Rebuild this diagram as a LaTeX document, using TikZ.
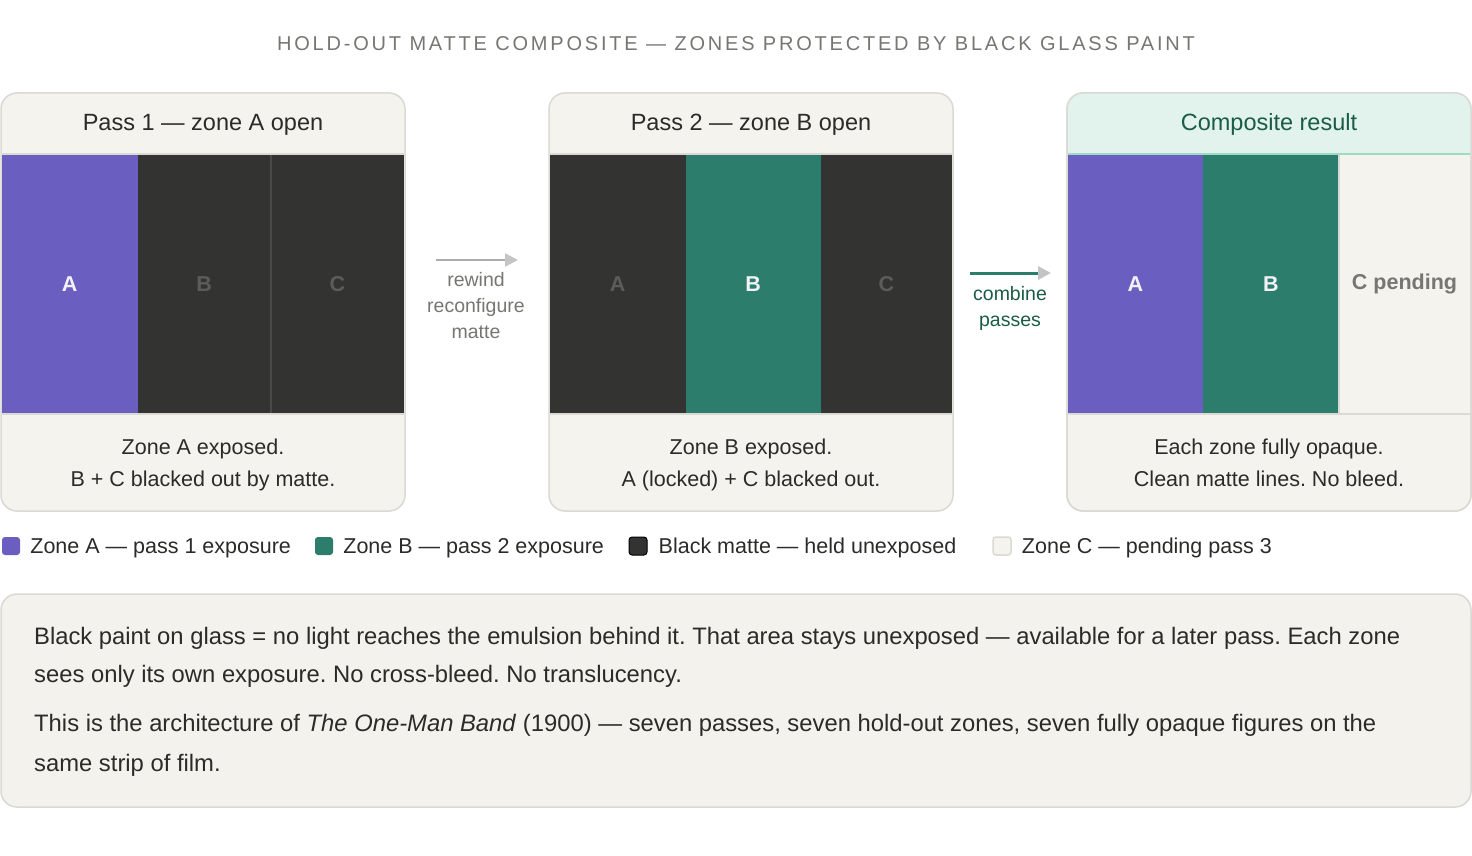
\documentclass[tikz,border=0pt]{standalone}
\usepackage{fontspec}
\setmainfont{Liberation Sans}
\usepackage{tikz}
\usetikzlibrary{arrows.meta,positioning}
\definecolor{Cream}{HTML}{F4F3EE}
\definecolor{NoteFill}{HTML}{F3F2EC}
\definecolor{PanelEdge}{HTML}{DAD9D3}
\definecolor{Violet}{HTML}{6A5FC1}
\definecolor{Matte}{HTML}{333331}
\definecolor{SeamGray}{HTML}{4A4A48}
\definecolor{Teal}{HTML}{2C7D6B}
\definecolor{MintHead}{HTML}{E1F3EC}
\definecolor{MintRule}{HTML}{9EDBC4}
\definecolor{DeepTeal}{HTML}{1A5C47}
\definecolor{Ink}{HTML}{2B2B29}
\definecolor{Mute}{HTML}{767672}
\definecolor{DimLetter}{HTML}{5C5C5A}
\definecolor{ZoneInk}{HTML}{F2F1F8}
\definecolor{ShaftGray}{HTML}{ACACAA}
\definecolor{HeadGray}{HTML}{C4C4C2}
\newcommand{\pxfont}[2]{\fontsize{#1}{#2}\selectfont}
\frenchspacing

\begin{document}
\begin{tikzpicture}[
    x=1pt, y=-1pt,
    title/.style={font=\pxfont{20}{24}\addfontfeature{LetterSpace=14}, text=Mute},
    panel/.style={draw=PanelEdge, line width=1.5pt, fill=Cream, rounded corners=16pt},
    head/.style={font=\pxfont{23.5}{28}, text=Ink},
    zone/.style={inner sep=0pt, outer sep=0pt, minimum height=260pt, font=\pxfont{21.5}{26}\bfseries, text=DimLetter},
    rule/.style={draw=PanelEdge, line width=1.5pt},
    seam/.style={draw=SeamGray, line width=1.5pt},
    foot/.style={anchor=north, font=\pxfont{21.5}{32}, text=Ink, align=center},
    hop/.style={font=\pxfont{19.5}{26}, align=center},
    arr/.style={-{Triangle[length=13pt, width=13pt, color=HeadGray]}, line width=2pt, draw=ShaftGray},
    key/.style={minimum size=18pt, inner sep=0pt, rounded corners=3pt},
    keytext/.style={anchor=west, yshift=-2pt, inner sep=0pt, font=\pxfont{21.5}{26}, text=Ink},
    notebox/.style={draw=PanelEdge, line width=1.5pt, fill=NoteFill, rounded corners=16pt},
    notetext/.style={anchor=north west, inner sep=0pt, align=left, font=\pxfont{23.8}{38.5}, text=Ink}
]
\useasboundingbox[fill=white] (0,0) rectangle (1472,856);
\node[title] (ttl) at (736,44) {HOLD-OUT MATTE COMPOSITE — ZONES PROTECTED BY BLACK GLASS PAINT};

% pass 1
\draw[panel] (1,93) rectangle (405,511);
\node[head] (h1) at (203,125) {Pass 1 — zone A open};
\node[zone, fill=Violet, text=ZoneInk, minimum width=136pt, anchor=north west] (z1a) at (1.75,154) {A};
\node[zone, fill=Matte, minimum width=133pt, right=0pt of z1a] (z1b) {B};
\node[zone, fill=Matte, minimum width=133.5pt, right=0pt of z1b] (z1c) {C};
\draw[seam] (z1b.north east) -- (z1b.south east);
\draw[rule] (z1a.north west) -- (z1c.north east);
\draw[rule] (z1a.south west) -- (z1c.south east);
\node[foot] (f1) at (203,435.5) {Zone A exposed.\\B + C blacked out by matte.};

% pass 2
\draw[panel] (549,93) rectangle (953,511);
\node[head] (h2) at (751,125) {Pass 2 — zone B open};
\node[zone, fill=Matte, minimum width=136pt, anchor=north west] (z2a) at (549.75,154) {A};
\node[zone, fill=Teal, text=ZoneInk, minimum width=135pt, right=0pt of z2a] (z2b) {B};
\node[zone, fill=Matte, minimum width=131.5pt, right=0pt of z2b] (z2c) {C};
\draw[rule] (z2a.north west) -- (z2c.north east);
\draw[rule] (z2a.south west) -- (z2c.south east);
\node[foot] (f2) at (751,435.5) {Zone B exposed.\\A (locked) + C blacked out.};

% composite
\draw[panel] (1067,93) rectangle (1471,511);
\begin{scope}
  \clip[rounded corners=16pt] (1067,93) rectangle (1471,511);
  \fill[MintHead] (1067,93) rectangle (1471,154);
\end{scope}
\draw[PanelEdge, line width=1.5pt, rounded corners=16pt] (1067,93) rectangle (1471,511);
\node[head, text=DeepTeal] (h3) at (1269,124) {Composite result};
\node[zone, fill=Violet, text=ZoneInk, minimum width=135pt, anchor=north west] (z3a) at (1067.75,154) {A};
\node[zone, fill=Teal, text=ZoneInk, minimum width=136pt, right=0pt of z3a] (z3b) {B};
\node[zone, fill=Cream, text=Mute, minimum width=131.5pt, right=0pt of z3b] (z3c) {C pending};
\draw[rule] (z3c.north west) -- (z3c.south west);
\draw[rule, draw=MintRule] (z3a.north west) -- (z3c.north east);
\draw[rule] (z3a.south west) -- (z3c.south east);
\node[foot] (f3) at (1269,435.5) {Each zone fully opaque.\\Clean matte lines. No bleed.};

% hops between panels
\coordinate (rwL) at (436,260);
\coordinate (rwR) at (518,260);
\draw[arr] (rwL) -- (rwR);
\node[hop, text=Mute] (rw) at (476,306) {rewind\\reconfigure\\matte};
\coordinate (cbL) at (970,273);
\coordinate (cbR) at (1051,273);
\draw[arr, draw=Teal, line width=3pt] (cbL) -- (cbR);
\node[hop, text=DeepTeal] (cb) at (1010,308) {combine\\passes};

% legend
\node[key, fill=Violet] (kA) at (11,546) {};
\node[keytext, right=10pt of kA] (tA) {Zone A — pass 1 exposure};
\node[key, fill=Teal] (kB) at (324,546) {};
\node[keytext, right=10pt of kB] (tB) {Zone B — pass 2 exposure};
\node[key, fill=Matte, draw=black, line width=1pt] (kC) at (638,546) {};
\node[keytext, right=11pt of kC] (tC) {Black matte — held unexposed};
\node[key, fill=Cream, draw=PanelEdge, line width=1.5pt] (kD) at (1002,546) {};
\node[keytext, right=10pt of kD] (tD) {Zone C — pending pass 3};

% note
\draw[notebox] (1,594) rectangle (1471,807);
\node[notetext] (nt) at (34,627) {Black paint on glass = no light reaches the emulsion behind it. That area stays unexposed — available for a later pass. Each zone\\
sees only its own exposure. No cross-bleed. No translucency.\\[10pt]
This is the architecture of \textit{The One-Man Band} (1900) — seven passes, seven hold-out zones, seven fully opaque figures on the\\[1.5pt]
same strip of film.};
\end{tikzpicture}
\end{document}
